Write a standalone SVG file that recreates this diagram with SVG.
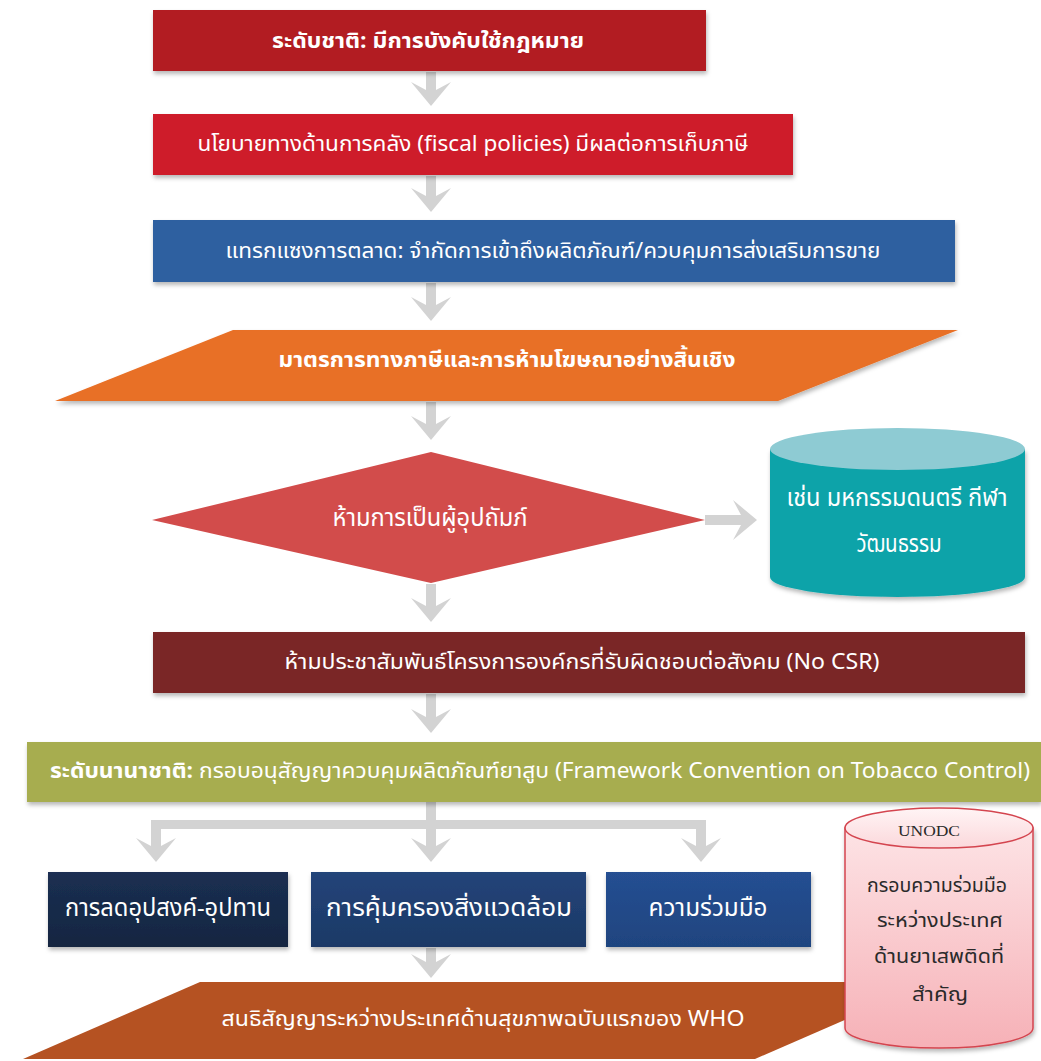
<svg xmlns="http://www.w3.org/2000/svg" width="1041" height="1061" viewBox="0 0 1041 1061">
<defs>
<filter id="sh" x="-5%" y="-10%" width="110%" height="130%">
<feDropShadow dx="1" dy="3" stdDeviation="2" flood-color="#000" flood-opacity="0.28"/>
</filter>
<linearGradient id="pink" x1="0" y1="0" x2="0" y2="1">
<stop offset="0" stop-color="#FDE3E5"/>
<stop offset="1" stop-color="#F6B1B7"/>
</linearGradient>
<linearGradient id="pinkTop" x1="0" y1="0" x2="0" y2="1">
<stop offset="0" stop-color="#FFF4F5"/>
<stop offset="1" stop-color="#FBD8DB"/>
</linearGradient>
<linearGradient id="navy1" x1="0" y1="0" x2="0" y2="1">
<stop offset="0" stop-color="#1B2F52"/>
<stop offset="1" stop-color="#142641"/>
</linearGradient>
<linearGradient id="navy2" x1="0" y1="0" x2="0" y2="1">
<stop offset="0" stop-color="#234479"/>
<stop offset="1" stop-color="#1C3966"/>
</linearGradient>
<linearGradient id="navy3" x1="0" y1="0" x2="0" y2="1">
<stop offset="0" stop-color="#254F92"/>
<stop offset="1" stop-color="#1F447F"/>
</linearGradient>
</defs>
<style>
.t{font-family:"Noto Sans Thai","Noto Sans","DejaVu Sans",sans-serif;fill:#FFFFFF;font-size:22px;text-anchor:middle;dominant-baseline:central}
.b{font-weight:bold}
.lg{font-size:24px}
.dk{fill:#2A2A2A;font-size:20px}
.arr{fill:#D3D3D3}
</style>
<rect width="1041" height="1061" fill="#FFFFFF"/>

<g id="connectors">
<polygon class="arr" points="426,72 436,72 436,90 451,82 431,106 411,82 426,90"/>
<polygon class="arr" points="426,176 436,176 436,196 451,188 431,212 411,188 426,196"/>
<polygon class="arr" points="426,283 436,283 436,305 451,297 431,321 411,297 426,305"/>
<polygon class="arr" points="426,402 436,402 436,424 451,416 431,440 411,416 426,424"/>
<polygon class="arr" points="426,584 436,584 436,606 451,598 431,622 411,598 426,606"/>
<polygon class="arr" points="426,694 436,694 436,717 451,709 431,733 411,709 426,717"/>
<polygon class="arr" points="705,515 741,515 733,500 757,520 733,540 741,525 705,525"/>
<rect class="arr" x="426" y="802" width="10" height="26"/>
<rect class="arr" x="151" y="820" width="555" height="9"/>
<polygon class="arr" points="151,820 161,820 161,846 176,838 156,862 136,838 151,846"/>
<polygon class="arr" points="426,820 436,820 436,846 451,838 431,862 411,838 426,846"/>
<polygon class="arr" points="696,820 706,820 706,846 721,838 701,862 681,838 696,846"/>
<polygon class="arr" points="426,948 436,948 436,962 451,954 431,978 411,954 426,962"/>
</g>

<g id="n1">
<rect x="153" y="10" width="553" height="61" fill="#B21E24" filter="url(#sh)"/>
<text class="t b" x="428" y="41" textLength="312" lengthAdjust="spacingAndGlyphs">ระดับชาติ: มีการบังคับใช้กฎหมาย</text>
</g>
<g id="n2">
<rect x="153" y="114" width="640" height="61" fill="#CE1F29" filter="url(#sh)"/>
<text class="t" x="473" y="144" textLength="551" lengthAdjust="spacingAndGlyphs">นโยบายทางด้านการคลัง (fiscal policies) มีผลต่อการเก็บภาษี</text>
</g>
<g id="n3">
<rect x="153" y="220" width="802" height="62" fill="#2D60A0" filter="url(#sh)"/>
<text class="t" x="553" y="251" textLength="655" lengthAdjust="spacingAndGlyphs">แทรกแซงการตลาด: จำกัดการเข้าถึงผลิตภัณฑ์/ควบคุมการส่งเสริมการขาย</text>
</g>
<g id="n4">
<polygon points="233,330 958,330 778,401 55,401" fill="#E86F25" filter="url(#sh)"/>
<text class="t b" x="507" y="360" textLength="457" lengthAdjust="spacingAndGlyphs">มาตรการทางภาษีและการห้ามโฆษณาอย่างสิ้นเชิง</text>
</g>
<g id="n5">
<polygon points="152,520 431,452 705,520 431,583" fill="#D24C4B"/>
<text class="t lg" x="430" y="519" textLength="195" lengthAdjust="spacingAndGlyphs">ห้ามการเป็นผู้อุปถัมภ์</text>
</g>
<g id="n6">
<path d="M770,449 L770,577 A127.5,20 0 0 0 1025,577 L1025,449 Z" fill="#0AA3A9" filter="url(#sh)"/>
<ellipse cx="897.5" cy="449" rx="127.5" ry="21" fill="#8ECBD3"/>
<text class="t lg" x="897" y="499" textLength="221" lengthAdjust="spacingAndGlyphs">เช่น มหกรรมดนตรี กีฬา</text>
<text class="t lg" x="899" y="545" textLength="85" lengthAdjust="spacingAndGlyphs">วัฒนธรรม</text>
</g>
<g id="n7">
<rect x="153" y="632" width="872" height="61" fill="#7A2725" filter="url(#sh)"/>
<text class="t" x="582" y="662" textLength="595" lengthAdjust="spacingAndGlyphs">ห้ามประชาสัมพันธ์โครงการองค์กรที่รับผิดชอบต่อสังคม (No CSR)</text>
</g>
<g id="n8">
<rect x="27" y="742" width="1014" height="60" fill="#A7AD4F" filter="url(#sh)"/>
<text class="t" x="540" y="771" textLength="980" lengthAdjust="spacingAndGlyphs"><tspan class="b">ระดับนานาชาติ:</tspan> กรอบอนุสัญญาควบคุมผลิตภัณฑ์ยาสูบ (Framework Convention on Tobacco Control)</text>
</g>
<g id="n9">
<rect x="48" y="872" width="240" height="75" fill="url(#navy1)" filter="url(#sh)"/>
<text class="t lg" x="168" y="909" textLength="206" lengthAdjust="spacingAndGlyphs">การลดอุปสงค์-อุปทาน</text>
</g>
<g id="n10">
<rect x="311" y="872" width="275" height="75" fill="url(#navy2)" filter="url(#sh)"/>
<text class="t lg" x="449" y="909" textLength="246" lengthAdjust="spacingAndGlyphs">การคุ้มครองสิ่งแวดล้อม</text>
</g>
<g id="n11">
<rect x="606" y="872" width="205" height="75" fill="url(#navy3)" filter="url(#sh)"/>
<text class="t lg" x="708" y="909" textLength="119" lengthAdjust="spacingAndGlyphs">ความร่วมมือ</text>
</g>
<g id="n12">
<polygon points="200,982 932,982 755,1059 23,1059" fill="#B55222"/>
<text class="t" x="483" y="1019" textLength="523" lengthAdjust="spacingAndGlyphs">สนธิสัญญาระหว่างประเทศด้านสุขภาพฉบับแรกของ WHO</text>
</g>
<g id="n13">
<path d="M845,828 L845,1028 A94,20 0 0 0 1033,1028 L1033,828 Z" fill="url(#pink)" stroke="#D4454F" stroke-width="1.5" filter="url(#sh)"/>
<ellipse cx="939" cy="828" rx="94" ry="20" fill="url(#pinkTop)" stroke="#D4454F" stroke-width="1.5"/>
<text class="t dk" x="929" y="831" style="font-family:'Liberation Serif',serif;font-size:15px" textLength="62" lengthAdjust="spacingAndGlyphs">UNODC</text>
<text class="t dk" x="937" y="886" textLength="140" lengthAdjust="spacingAndGlyphs">กรอบความร่วมมือ</text>
<text class="t dk" x="940" y="921" textLength="126" lengthAdjust="spacingAndGlyphs">ระหว่างประเทศ</text>
<text class="t dk" x="939" y="957" textLength="130" lengthAdjust="spacingAndGlyphs">ด้านยาเสพติดที่</text>
<text class="t dk" x="940" y="995" textLength="56" lengthAdjust="spacingAndGlyphs">สำคัญ</text>
</g>
</svg>
